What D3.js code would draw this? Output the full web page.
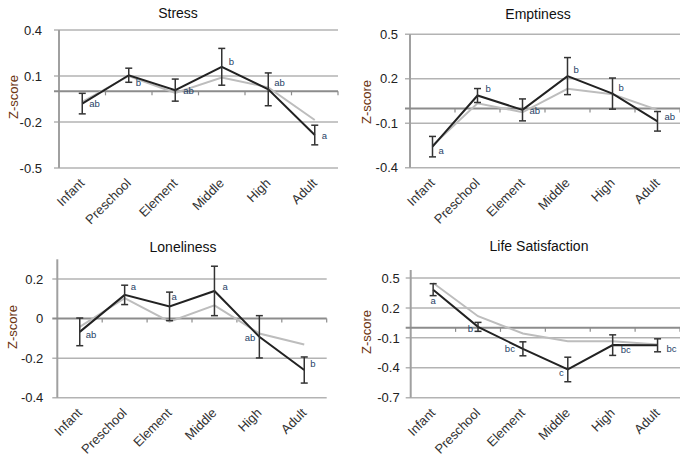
<!DOCTYPE html>
<html>
<head>
<meta charset="utf-8">
<script src="https://cdn.jsdelivr.net/npm/d3@7/dist/d3.min.js"></script>
<style>
  html, body { margin: 0; padding: 0; background: #fff; }
  svg { display: block; font-family: Arial, "Liberation Sans", sans-serif; }
</style>
</head>
<body>
<svg id="chart" width="680" height="454"></svg>
<script>
// Age groups on the x axis
const categories = ["Infant", "Preschool", "Element", "Middle", "High", "Adult"];

// Stress
const stressMean   = [-0.08, 0.105, 0.008, 0.16, 0.013, -0.285];
const stressErr    = [0.067, 0.046, 0.072, 0.12, 0.107, 0.064];
const stressComp   = [-0.068, 0.10, -0.01, 0.09, 0.026, -0.187];
const stressLetters = ["ab", "b", "ab", "b", "ab", "a"];
const stressTicks  = [0.4, 0.1, -0.2, -0.5];

// Emptiness
const emptyMean    = [-0.258, 0.087, -0.01, 0.218, 0.10, -0.087];
const emptyErr     = [0.069, 0.047, 0.074, 0.125, 0.105, 0.066];
const emptyComp    = [-0.25, 0.035, -0.026, 0.132, 0.096, -0.01];
const emptyLetters = ["a", "b", "ab", "b", "b", "ab"];
const emptyTicks   = [0.5, 0.2, -0.1, -0.4];

// Loneliness
const loneMean     = [-0.067, 0.12, 0.062, 0.14, -0.092, -0.26];
const loneErr      = [0.07, 0.049, 0.072, 0.125, 0.107, 0.066];
const loneComp     = [-0.042, 0.104, -0.015, 0.067, -0.075, -0.131];
const loneLetters  = ["ab", "a", "a", "a", "ab", "b"];
const loneTicks    = [0.2, 0, -0.2, -0.4];

// Life Satisfaction
const lifeMean     = [0.383, 0.01, -0.21, -0.417, -0.173, -0.175];
const lifeErr      = [0.06, 0.045, 0.07, 0.123, 0.103, 0.065];
const lifeComp     = [0.45, 0.117, -0.057, -0.133, -0.133, -0.167];
const lifeLetters  = ["a", "b", "bc", "c", "bc", "bc"];
const lifeTicks    = [0.5, 0.2, -0.1, -0.4, -0.7];

// Panel layout: plot box, y domain, and where each group letter sits
const panels = [
  { title: "Stress", mean: stressMean, err: stressErr, comp: stressComp, letters: stressLetters,
    ticks: stressTicks, domain: [-0.5, 0.4], x0: 59, x1: 338, yTop: 30, yBot: 168,
    titleX: 178, titleY: 18, zX: 13, zY: 97, tickGap: 17,
    letterPos: [[7, 0, "start"], [7, 7, "start"], [8, 1, "start"], [7, -5, "start"], [6, -7, "start"], [7, 1, "start"]] },
  { title: "Emptiness", mean: emptyMean, err: emptyErr, comp: emptyComp, letters: emptyLetters,
    ticks: emptyTicks, domain: [-0.4, 0.5], x0: 410, x1: 680, yTop: 34.3, yBot: 167.7,
    titleX: 538, titleY: 19, zX: 366, zY: 102, tickGap: 12,
    letterPos: [[6, 4, "start"], [8, -7, "start"], [7, 1, "start"], [6, -6, "start"], [6, -6, "start"], [7, -5, "start"]] },
  { title: "Loneliness", mean: loneMean, err: loneErr, comp: loneComp, letters: loneLetters,
    ticks: loneTicks, domain: [-0.4, 0.3], x0: 57.3, x1: 326.7, yTop: 259.3, yBot: 397.7,
    titleX: 183, titleY: 251.5, zX: 12.5, zY: 327, tickGap: 14,
    letterPos: [[6, 3, "start"], [6, -8, "start"], [2, -10, "start"], [8, -4, "start"], [-4, 1, "end"], [6, -6, "start"]] },
  { title: "Life Satisfaction", mean: lifeMean, err: lifeErr, comp: lifeComp, letters: lifeLetters,
    ticks: lifeTicks, domain: [-0.7, 0.58], x0: 410.7, x1: 680, yTop: 270, yBot: 397.7,
    titleX: 539, titleY: 250.5, zX: 366, zY: 332, tickGap: 11,
    letterPos: [[0, 11, "middle"], [-5, 2, "end"], [-8, 0, "end"], [-4, 3, "end"], [8, 5, "start"], [9, 3, "start"]] }
];

const svg = d3.select("#chart");

panels.forEach(p => {
  const g = svg.append("g");
  const x = d3.scaleBand().domain(categories).range([p.x0, p.x1]);
  const y = d3.scaleLinear().domain(p.domain).range([p.yBot, p.yTop]);
  const cx = c => x(c) + x.bandwidth() / 2;

  // horizontal gridlines with short ticks left of the axis
  g.selectAll(".grid").data(p.ticks.filter(t => t !== 0)).join("line")
    .attr("x1", p.x0 - 5).attr("x2", p.x1)
    .attr("y1", d => y(d)).attr("y2", d => y(d))
    .attr("stroke", "#b3b3b3").attr("stroke-width", 1.5);

  // vertical axis line
  g.append("line")
    .attr("x1", p.x0).attr("x2", p.x0)
    .attr("y1", p.yTop).attr("y2", p.yBot)
    .attr("stroke", "#a0a0a0").attr("stroke-width", 2);

  // y tick labels (plain hyphen for negatives)
  g.selectAll(".ytl").data(p.ticks).join("text")
    .attr("x", p.x0 - p.tickGap).attr("y", d => y(d))
    .attr("dy", "0.36em").attr("text-anchor", "end")
    .attr("font-size", 13).attr("fill", "#222")
    .text(d => String(d));

  // zero axis with tick marks at group boundaries
  g.append("line")
    .attr("x1", p.x0 - 5).attr("x2", p.x1)
    .attr("y1", y(0)).attr("y2", y(0))
    .attr("stroke", "#8c8c8c").attr("stroke-width", 2);
  const bounds = categories.map(c => x(c)).concat([p.x1]).slice(1);
  g.selectAll(".zt").data(bounds).join("line")
    .attr("x1", d => d).attr("x2", d => d)
    .attr("y1", y(0)).attr("y2", y(0) + 4)
    .attr("stroke", "#8c8c8c").attr("stroke-width", 1.2);

  // comparison series (light grey)
  const line = d3.line().x((d, i) => cx(categories[i])).y(d => y(d));
  g.append("path").datum(p.comp)
    .attr("d", line).attr("fill", "none")
    .attr("stroke", "#bdbdbd").attr("stroke-width", 2);

  // main series (black)
  g.append("path").datum(p.mean)
    .attr("d", line).attr("fill", "none")
    .attr("stroke", "#222").attr("stroke-width", 2);

  // error bars
  const eb = g.selectAll(".eb").data(p.mean).join("g");
  eb.append("line")
    .attr("x1", (d, i) => cx(categories[i])).attr("x2", (d, i) => cx(categories[i]))
    .attr("y1", (d, i) => y(d + p.err[i])).attr("y2", (d, i) => y(d - p.err[i]))
    .attr("stroke", "#333").attr("stroke-width", 1.5);
  [1, -1].forEach(s => {
    eb.append("line")
      .attr("x1", (d, i) => cx(categories[i]) - 3.5).attr("x2", (d, i) => cx(categories[i]) + 3.5)
      .attr("y1", (d, i) => y(d + s * p.err[i])).attr("y2", (d, i) => y(d + s * p.err[i]))
      .attr("stroke", "#333").attr("stroke-width", 1.5);
  });

  // group letters
  g.selectAll(".lt").data(p.letters).join("text")
    .attr("x", (d, i) => cx(categories[i]) + p.letterPos[i][0])
    .attr("y", (d, i) => y(p.mean[i]) + p.letterPos[i][1])
    .attr("dy", "0.35em")
    .attr("text-anchor", (d, i) => p.letterPos[i][2])
    .attr("font-size", 9.5).attr("fill", "#1f3f66")
    .text(d => d);

  // rotated category labels
  g.selectAll(".xl").data(categories).join("text")
    .attr("transform", d => `translate(${cx(d) + 3},${p.yBot + 16}) rotate(-45)`)
    .attr("text-anchor", "end")
    .attr("font-size", 13).attr("fill", "#333")
    .text(d => d);

  // title
  g.append("text")
    .attr("x", p.titleX).attr("y", p.titleY)
    .attr("text-anchor", "middle")
    .attr("font-size", 14).attr("fill", "#111")
    .text(p.title);

  // y axis title
  g.append("text")
    .attr("transform", `translate(${p.zX},${p.zY}) rotate(-90)`)
    .attr("text-anchor", "middle").attr("dy", "0.35em")
    .attr("font-size", 13).attr("fill", "#6b3410")
    .text("Z-score");
});
</script>
</body>
</html>
